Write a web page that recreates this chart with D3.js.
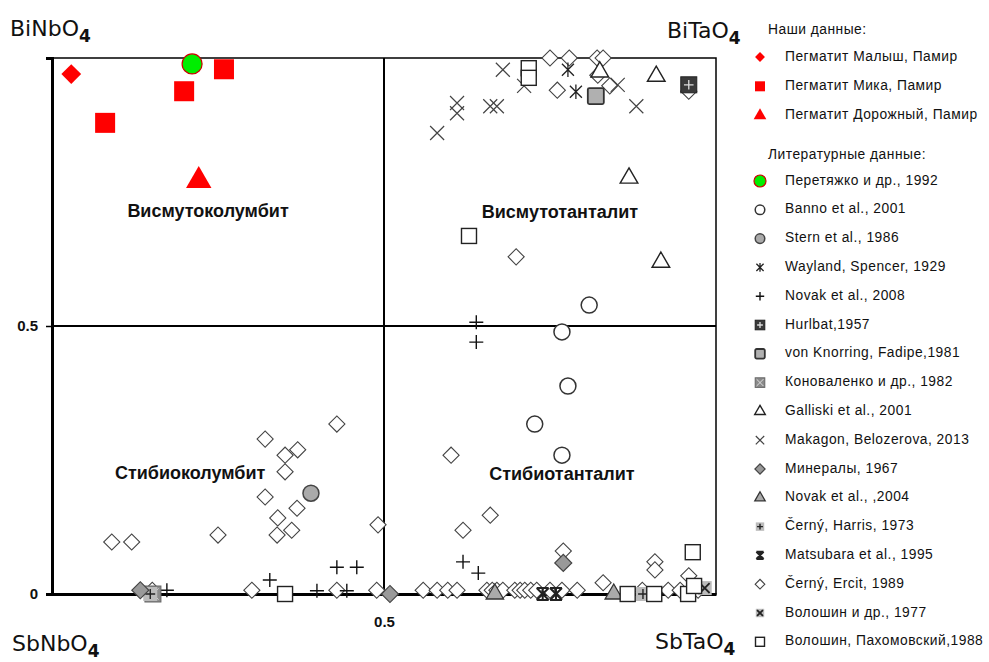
<!DOCTYPE html>
<html><head><meta charset="utf-8">
<script src="https://cdn.jsdelivr.net/npm/d3@7"></script>
<style>
body{margin:0;background:#fff;}
svg{display:block;font-family:"Liberation Sans",Arial,sans-serif;}
</style></head>
<body>
<svg id="c" width="989" height="662"></svg>
<script>
// ---- data (x = Ta/(Nb+Ta) share, y = Bi share) ----
const malysh = [[0.029,0.970]];
const mika = [[0.080,0.879],[0.199,0.938],[0.259,0.979]];
const dorozhny = [[0.221,0.771]];
const peretyazhko = [[0.211,0.989]];
const banno = [[0.809,0.539],[0.768,0.489],[0.777,0.388],[0.727,0.317],[0.768,0.259]];
const stern = [[0.390,0.188]];
const wayland = [[0.777,0.978],[0.789,0.937]];
const novak2008 = [[0.639,0.507],[0.639,0.470],[0.619,0.060],[0.642,0.039],[0.328,0.026],[0.399,0.006],[0.429,0.050],[0.459,0.050],[0.173,0.007],[0.444,0.006]];
const hurlbat = [[0.959,0.950]];
const knorring = [[0.819,0.929]];
const konovalenko = [[0.152,0.0]];
const galliski = [[0.910,0.966],[0.869,0.776],[0.917,0.619],[0.825,0.974]];
const makagon = [[0.679,0.978],[0.711,0.948],[0.580,0.860],[0.610,0.916],[0.610,0.897],[0.660,0.910],[0.670,0.910],[0.880,0.910],[0.852,0.950]];
const mineraly = [[0.133,0.007],[0.509,0.0],[0.770,0.058]];
const novak2004 = [[0.667,0.0],[0.846,0.0]];
const cernyHarris = [[0.148,0.0],[0.890,0.0]];
const matsubara = [[0.739,0.0],[0.759,0.0]];
const cernyErcit = [[0.750,1.0],[0.779,1.0],[0.821,1.0],[0.830,1.0],[0.761,0.940],[0.840,0.948],[0.959,0.938],[0.822,0.968],
  [0.699,0.629],[0.601,0.259],[0.660,0.147],[0.619,0.119],[0.770,0.080],[0.908,0.060],[0.908,0.045],[0.959,0.034],[0.830,0.021],
  [0.559,0.007],[0.580,0.007],[0.596,0.007],[0.610,0.007],[0.655,0.007],[0.663,0.007],[0.670,0.007],[0.679,0.007],[0.697,0.007],
  [0.705,0.007],[0.712,0.007],[0.721,0.007],[0.730,0.007],[0.750,0.007],[0.768,0.007],[0.791,0.007],[0.889,0.007],[0.928,0.007],
  [0.946,0.007],[0.973,0.007],
  [0.429,0.317],[0.321,0.289],[0.370,0.269],[0.351,0.259],[0.351,0.228],[0.321,0.181],[0.369,0.160],[0.340,0.142],[0.361,0.119],
  [0.339,0.110],[0.491,0.129],[0.250,0.110],[0.090,0.097],[0.120,0.097],
  [0.151,0.007],[0.301,0.007],[0.429,0.007],[0.489,0.007]];
const voloshin1977 = [[0.983,0.011]];
const voloshinPakh = [[0.718,0.981],[0.718,0.963],[0.628,0.668],[0.351,0.0],[0.867,0.0],[0.907,0.0],[0.958,0.0],[0.967,0.015],[0.965,0.078]];

const tickValues = [0, 0.5];
const tickLabels = ["0", "0.5"];
const quadrantLabels = ["Висмутоколумбит","Висмутотанталит","Стибиоколумбит","Стибиотанталит"];
const quadrantPos = [[0.235,0.713],[0.765,0.711],[0.208,0.224],[0.768,0.222]];
const cornerLabels = ["BiNbO","BiTaO","SbNbO","SbTaO"];
const legendHeaders = ["Наши данные:","Литературные данные:"];
const ourLabels = ["Пегматит Малыш, Памир","Пегматит Мика, Памир","Пегматит Дорожный, Памир"];
const litLabels = ["Перетяжко и др., 1992","Banno et al., 2001","Stern et al., 1986","Wayland, Spencer, 1929","Novak et al., 2008",
  "Hurlbat,1957"," von Knorring, Fadipe,1981","Коноваленко и др., 1982","Galliski et al., 2001","Makagon, Belozerova, 2013",
  "Минералы, 1967","Novak et al., ,2004","Černý, Harris, 1973","Matsubara et al., 1995","Černý, Ercit, 1989",
  "Волошин и др., 1977","Волошин, Пахомовский,1988"];

// ---- marker drawing ----
function drawMarker(g, type, s){
  const k = s;
  switch(type){
    case "redDiamond": g.append("rect").attr("x",-7*k).attr("y",-7*k).attr("width",14*k).attr("height",14*k).attr("transform","rotate(45)").attr("fill","#ff0000"); break;
    case "redSquare": g.append("rect").attr("x",-10*k).attr("y",-10*k).attr("width",20*k).attr("height",20*k).attr("fill","#ff0000"); break;
    case "redTriangle": g.append("path").attr("d",d3.symbol(d3.symbolTriangle, 280*k*k)()).attr("fill","#ff0000"); break;
    case "green": g.append("circle").attr("r",10*k).attr("fill","#00ee00").attr("stroke","#cc0000").attr("stroke-width",1.2); break;
    case "openCircle": g.append("circle").attr("r",8*k).attr("fill","#fff").attr("stroke","#333").attr("stroke-width",1.5); break;
    case "greyCircle": g.append("circle").attr("r",8*k).attr("fill","#aaa").attr("stroke","#444").attr("stroke-width",1.5); break;
    case "zh": {
      const r=6*k;
      g.append("path").attr("d",`M${-r},${-r}L${r},${r}M${-r},${r}L${r},${-r}M0,${-r*1.2}L0,${r*1.2}`).attr("stroke","#222").attr("stroke-width",1.3).attr("fill","none"); break; }
    case "plus": {
      const r=7*k;
      g.append("path").attr("d",`M${-r},0L${r},0M0,${-r}L0,${r}`).attr("stroke","#111").attr("stroke-width",1.4); break; }
    case "hurlbat": {
      const r=8*k;
      g.append("rect").attr("x",-r).attr("y",-r).attr("width",2*r).attr("height",2*r).attr("fill","#3a3a3a").attr("stroke","#222");
      g.append("path").attr("d",`M${-r*0.6},0L${r*0.6},0M0,${-r*0.6}L0,${r*0.6}`).attr("stroke","#ddd").attr("stroke-width",1.3); break; }
    case "knorring": {
      const r=8*k;
      g.append("rect").attr("x",-r).attr("y",-r).attr("width",2*r).attr("height",2*r).attr("rx",1.5).attr("fill","#b0b0b0").attr("stroke","#333").attr("stroke-width",1.8); break; }
    case "konovalenko": {
      const r=8*k;
      g.append("rect").attr("x",-r).attr("y",-r).attr("width",2*r).attr("height",2*r).attr("fill","#8a8a8a").attr("stroke","#666");
      g.append("path").attr("d",`M${-r*0.7},${-r*0.7}L${r*0.7},${r*0.7}M${-r*0.7},${r*0.7}L${r*0.7},${-r*0.7}`).attr("stroke","#ddd").attr("stroke-width",1); break; }
    case "openTriangle": g.append("path").attr("d",d3.symbol(d3.symbolTriangle, 135*k*k)()).attr("fill","#fff").attr("stroke","#222").attr("stroke-width",1.4); break;
    case "cross": {
      const r=7*k;
      g.append("path").attr("d",`M${-r},${-r}L${r},${r}M${-r},${r}L${r},${-r}`).attr("stroke","#444").attr("stroke-width",1.2); break; }
    case "greyDiamond": g.append("rect").attr("x",-6*k).attr("y",-6*k).attr("width",12*k).attr("height",12*k).attr("transform","rotate(45)").attr("fill","#999").attr("stroke","#444").attr("stroke-width",1.2); break;
    case "greyTriangle": g.append("path").attr("d",d3.symbol(d3.symbolTriangle, 130*k*k)()).attr("fill","#aaa").attr("stroke","#333").attr("stroke-width",1.3); break;
    case "cernyHarris": {
      const r=7*k;
      g.append("rect").attr("x",-r).attr("y",-r).attr("width",2*r).attr("height",2*r).attr("fill","#bbb");
      g.append("path").attr("d",`M${-r*0.7},0L${r*0.7},0M0,${-r*0.7}L0,${r*0.7}`).attr("stroke","#222").attr("stroke-width",1.4); break; }
    case "matsubara": {
      const r=6*k;
      g.append("path").attr("d",`M${-r},${-r}L${r},${r}M${-r},${r}L${r},${-r}M0,${-r}L0,${r}M${-r},${-r}L${r},${-r}M${-r},${r}L${r},${r}`).attr("stroke","#222").attr("stroke-width",2); break; }
    case "ercit": g.append("rect").attr("x",-5.7*k).attr("y",-5.7*k).attr("width",11.4*k).attr("height",11.4*k).attr("transform","rotate(45)").attr("fill","#fff").attr("stroke","#444").attr("stroke-width",1.1); break;
    case "voloshin77": {
      const r=7*k;
      g.append("rect").attr("x",-r).attr("y",-r).attr("width",2*r).attr("height",2*r).attr("fill","#bbb");
      g.append("path").attr("d",`M${-r*0.7},${-r*0.7}L${r*0.7},${r*0.7}M${-r*0.7},${r*0.7}L${r*0.7},${-r*0.7}`).attr("stroke","#222").attr("stroke-width",1.8); break; }
    case "openSquare": {
      const r=7.5*k;
      g.append("rect").attr("x",-r).attr("y",-r).attr("width",2*r).attr("height",2*r).attr("fill","#fff").attr("stroke","#222").attr("stroke-width",1.4); break; }
  }
}

const series = [
  {data: cernyErcit, type:"ercit"},
  {data: banno, type:"openCircle"},
  {data: stern, type:"greyCircle"},
  {data: novak2008, type:"plus"},
  {data: makagon, type:"cross"},
  {data: wayland, type:"zh"},
  {data: galliski, type:"openTriangle"},
  {data: knorring, type:"knorring"},
  {data: konovalenko, type:"konovalenko"},
  {data: cernyHarris, type:"cernyHarris"},
  {data: mineraly, type:"greyDiamond"},
  {data: novak2004, type:"greyTriangle"},
  {data: matsubara, type:"matsubara"},
  {data: voloshin1977, type:"voloshin77"},
  {data: voloshinPakh, type:"openSquare"},
  {data: hurlbat, type:"hurlbat"},
];
const ourSeries = [
  {data: malysh, type:"redDiamond"},
  {data: mika, type:"redSquare"},
  {data: dorozhny, type:"redTriangle"},
  {data: peretyazhko, type:"green"},
];

const svg = d3.select("#c");
const x = d3.scaleLinear().domain([0,1]).range([52,716]);
const y = d3.scaleLinear().domain([0,1]).range([594,58]);

// frame
svg.append("rect").attr("x",x(0)).attr("y",y(1)).attr("width",x(1)-x(0)).attr("height",y(0)-y(1))
  .attr("fill","none").attr("stroke","#000").attr("stroke-width",1.5);
svg.append("line").attr("x1",x(0.5)).attr("x2",x(0.5)).attr("y1",y(0)).attr("y2",y(1)).attr("stroke","#000").attr("stroke-width",2);
svg.append("line").attr("x1",x(0)).attr("x2",x(1)).attr("y1",y(0.5)).attr("y2",y(0.5)).attr("stroke","#000").attr("stroke-width",2);

// axes
const ax = svg.append("g").attr("transform",`translate(${x(0)},0)`)
  .call(d3.axisLeft(y).tickValues(tickValues).tickFormat((d,i)=>tickLabels[i]).tickSize(6).tickPadding(8));
const bx = svg.append("g").attr("transform",`translate(0,${y(0)})`)
  .call(d3.axisBottom(x).tickValues([0.5]).tickFormat(()=>tickLabels[1]).tickSize(0).tickPadding(22));
[ax,bx].forEach(a=>{
  a.select(".domain").attr("stroke","#000").attr("stroke-width",3);
  a.selectAll(".tick line").attr("stroke","#000").attr("stroke-width",1.5);
  a.selectAll(".tick text").attr("font-family","Liberation Sans, Arial, sans-serif").attr("font-size",15).attr("font-weight","bold").attr("fill","#111");
});

// quadrant labels
svg.selectAll("text.q").data(quadrantLabels).join("text").attr("class","q")
  .attr("x",(d,i)=>x(quadrantPos[i][0])).attr("y",(d,i)=>y(quadrantPos[i][1]))
  .attr("text-anchor","middle").attr("dominant-baseline","middle")
  .attr("font-size",18).attr("font-weight","bold").attr("fill","#111").text(d=>d);

// markers
function plotSeries(list){
  list.forEach(s=>{
    s.data.forEach(p=>{
      const g = svg.append("g").attr("transform",`translate(${x(p[0])},${y(p[1])})`);
      drawMarker(g, s.type, 1);
    });
  });
}
plotSeries(series);
plotSeries(ourSeries);

// corner labels
const cornerPos = [[10,36],[667,38],[12,651],[655,649]];
cornerLabels.forEach((t,i)=>{
  const tx = svg.append("text").attr("x",cornerPos[i][0]).attr("y",cornerPos[i][1])
    .attr("font-family","DejaVu Sans, sans-serif").attr("font-size",22).attr("fill","#111");
  tx.append("tspan").text(t);
  tx.append("tspan").attr("dy",6).attr("font-size",17).attr("font-weight","bold").text("4");
});

// legend
const lg = svg.append("g").attr("font-size",13.8).attr("letter-spacing",0.5).attr("fill","#111");
lg.append("text").attr("x",768).attr("y",30).attr("dominant-baseline","middle").text(legendHeaders[0]);
ourLabels.forEach((t,i)=>{
  const yy = 57 + 29.3*i;
  const g = lg.append("g").attr("transform",`translate(760,${yy})`);
  drawMarker(g, ourSeries[i].type, 0.5);
  lg.append("text").attr("x",785).attr("y",yy).attr("dominant-baseline","middle").text(t);
});
lg.append("text").attr("x",768).attr("y",155).attr("dominant-baseline","middle").text(legendHeaders[1]);
const litTypes = ["green","openCircle","greyCircle","zh","plus","hurlbat","knorring","konovalenko","openTriangle","cross",
  "greyDiamond","greyTriangle","cernyHarris","matsubara","ercit","voloshin77","openSquare"];
litLabels.forEach((t,i)=>{
  const yy = 181 + 28.8*i;
  const g = lg.append("g").attr("transform",`translate(760,${yy})`);
  drawMarker(g, litTypes[i], 0.6);
  lg.append("text").attr("x",785).attr("y",yy).attr("dominant-baseline","middle").text(t);
});
</script>
</body></html>
